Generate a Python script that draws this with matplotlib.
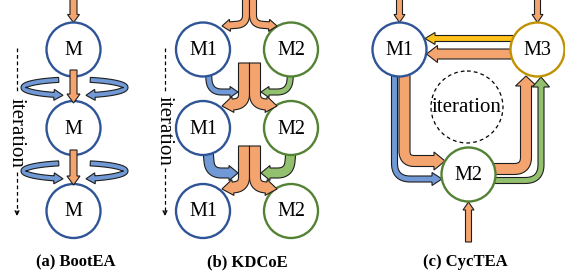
import numpy as np
import matplotlib
matplotlib.use("Agg")
import matplotlib.pyplot as plt
from matplotlib.patches import Circle, Polygon

# ---- content ----
captions = ["(a) BootEA", "(b) KDCoE", "(c) CycTEA"]
labels_a = ["M", "M", "M"]
labels_b = ["M1", "M2"]
labels_c = ["M1", "M2", "M3"]
iter_text = "iteration"

# ---- colours ----
ORANGE = "#f4a46e"
BLUE_F = "#7099d6"
GREEN_F = "#93c06e"
YELLOW = "#ffc21a"
EDGE = "#1e1e1e"
C_BLUE = "#2f5597"
C_GREEN = "#548235"
C_GOLD = "#c09200"

plt.rcParams['font.family'] = ['Liberation Serif', 'DejaVu Serif']

fig = plt.figure(figsize=(5.65, 2.76), dpi=100)
ax = fig.add_axes([0, 0, 1, 1])
ax.set_xlim(0, 565)
ax.set_ylim(276, 0)
ax.axis('off')


def centerline(way, radius, n=20):
    way = [np.array(p, float) for p in way]
    pts = [way[0]]
    for i in range(1, len(way) - 1):
        p0, p1, p2 = way[i - 1], way[i], way[i + 1]
        l1 = np.linalg.norm(p1 - p0)
        l2 = np.linalg.norm(p2 - p1)
        d1 = (p1 - p0) / l1
        d2 = (p2 - p1) / l2
        r = min(radius, l1 / 2, l2 / 2)
        a = p1 - d1 * r
        b = p1 + d2 * r
        for t in np.linspace(0, 1, n):
            pts.append((1 - t) ** 2 * a + 2 * (1 - t) * t * p1 + t ** 2 * b)
    pts.append(way[-1])
    return np.array(pts)


def arrow_poly(pts, w, hw, hl):
    pts = np.asarray(pts, float)
    keep = [0]
    for i in range(1, len(pts)):
        if np.linalg.norm(pts[i] - pts[keep[-1]]) > 1e-6:
            keep.append(i)
    pts = pts[keep]
    seg = np.linalg.norm(np.diff(pts, axis=0), axis=1)
    s = np.concatenate([[0], np.cumsum(seg)])
    sb = s[-1] - hl
    j = np.searchsorted(s, sb) - 1
    f = (sb - s[j]) / seg[j]
    base = pts[j] + f * (pts[j + 1] - pts[j])
    shaft = np.vstack([pts[:j + 1], base])
    keep = [0]
    for i in range(1, len(shaft)):
        if np.linalg.norm(shaft[i] - shaft[keep[-1]]) > 1e-6:
            keep.append(i)
    shaft = shaft[keep]
    tang = np.gradient(shaft, axis=0)
    tang /= np.linalg.norm(tang, axis=1)[:, None]
    nrm = np.column_stack([-tang[:, 1], tang[:, 0]])
    tip = pts[-1]
    d = (tip - base) / np.linalg.norm(tip - base)
    nb = np.array([-d[1], d[0]])
    nrm[-1] = nb
    left = shaft + nrm * w / 2
    right = shaft - nrm * w / 2
    return np.vstack([left, base + nb * hw / 2, tip, base - nb * hw / 2, right[::-1]])


def arrow(way, w, hw, hl, color, radius=10, z=1, lw=0.8):
    pts = centerline(way, radius) if len(way) > 2 else np.array(way, float)
    poly = arrow_poly(pts, w, hw, hl)
    ax.add_patch(Polygon(poly, closed=True, fc=color, ec=EDGE, lw=lw, joinstyle='miter', zorder=z))


def ring(cx, cy, a, b, t0, t1, w, hw, hl, color, z=0.5):
    t = np.radians(np.linspace(t0, t1, 80))
    pts = np.column_stack([cx + a * np.cos(t), cy - b * np.sin(t)])
    poly = arrow_poly(pts, w, hw, hl)
    ax.add_patch(Polygon(poly, closed=True, fc=color, ec=EDGE, lw=0.8, zorder=z))


def node(x, y, text, color, r=27):
    ax.add_patch(Circle((x, y), r, fc='white', ec=color, lw=1.7, zorder=2))
    ax.text(x, y + 1, text, ha='center', va='center', fontsize=14.5, zorder=3)


def iter_arrow(x, y0, y1, gap0, gap1):
    ax.plot([x, x], [y0, gap0], ls=(0, (3, 2.2)), lw=0.9, color='black')
    ax.plot([x, x], [gap1, y1 - 3], ls=(0, (3, 2.2)), lw=0.9, color='black')
    ax.annotate('', xy=(x, y1), xytext=(x, y1 - 5),
                arrowprops=dict(arrowstyle='->', lw=0.9, color='black', mutation_scale=7,
                                shrinkA=0, shrinkB=0))
    ax.text(x - 1, (gap0 + gap1) / 2, iter_text, rotation=270, ha='center', va='center', fontsize=15)


rows = [49.5, 128, 211]

# ---- (a) BootEA ----
xa = 73.5
for y, lab in zip(rows, labels_a):
    node(xa, y, lab, C_BLUE)
arrow([(xa, -2), (xa, 22.5)], 7, 12, 8, ORANGE)
for yr, y_from, y_to in [(87.5, 70, 103), (171, 150, 185)]:
    ring(xa + 1, yr, 51, 8, 108, 257, 5, 11, 9, BLUE_F)
    ring(xa + 1, yr, 51, 8, 72, -77, 5, 11, 9, BLUE_F)
    arrow([(xa, y_from), (xa, y_to)], 7, 13, 9, ORANGE, z=2.5)
iter_arrow(17, 48, 216, 93, 172)

# ---- (b) KDCoE ----
x1, x2, xm = 203, 291, 249.5
for y in rows:
    node(x1, y, labels_b[0], C_BLUE)
    node(x2, y, labels_b[1], C_GREEN)
# split arrows
for (y0, yc, ytip, w, hw, hl) in [(-2, 24, 26, 7, 12, 8), (63, 103, 106, 11, 16, 11), (146, 186, 189, 11, 16, 11)]:
    arrow([(xm - w / 2, y0), (xm - w / 2, yc), (222, ytip)], w, hw, hl, ORANGE, radius=9, z=3)
    arrow([(xm + w / 2, y0), (xm + w / 2, yc), (2 * xm - 222, ytip)], w, hw, hl, ORANGE, radius=9, z=3)
# side curved arrows
for (y0, yc, w, hw, hl, r) in [(68, 92, 6, 11, 8, 12), (150, 173, 10, 15, 9, 14)]:
    arrow([(208, y0), (210, yc), (238, yc)], w, hw, hl, BLUE_F, radius=r)
    arrow([(2 * xm - 208, y0), (2 * xm - 210, yc), (2 * xm - 238, yc)], w, hw, hl, GREEN_F, radius=r)
iter_arrow(165, 48, 216, 93, 168)

# ---- (c) CycTEA ----
m1 = (399.5, 49.5)
m2 = (468.5, 174.5)
m3 = (537.5, 49.5)
node(*m1, labels_c[0], C_BLUE)
node(*m2, labels_c[1], C_GREEN)
node(*m3, labels_c[2], C_GOLD)
ax.add_patch(Circle((467, 107), 36, fill=False, ec='black', lw=0.9, ls=(0, (3, 2.5)), zorder=1))
ax.text(467, 108, iter_text, ha='center', va='center', fontsize=15)
# inputs
arrow([(m1[0], -2), (m1[0], 22.5)], 6, 11, 8, ORANGE)
arrow([(m3[0], -2), (m3[0], 22.5)], 6, 11, 8, ORANGE)
arrow([(m2[0], 242), (m2[0], 202)], 6, 11, 8, ORANGE)
# M3 -> M1
arrow([(520, 38.5), (425, 38.5)], 6, 12, 10, YELLOW)
arrow([(520, 54), (426.5, 54)], 10, 17, 11, ORANGE)
# M1 -> M2
arrow([(394.5, 60), (394.5, 179), (442, 179)], 6, 13, 10, BLUE_F, radius=16)
arrow([(404.5, 60), (404.5, 161), (445, 161)], 11, 18, 11, ORANGE, radius=10)
# M2 -> M3
arrow([(480, 169), (526, 169), (526, 76)], 11, 21, 10, ORANGE, radius=12)
arrow([(480, 180.5), (541, 180.5), (541, 77)], 6, 17, 10, GREEN_F, radius=16)

# ---- captions ----
for x, cap in zip([76, 247, 465], captions):
    ax.text(x, 262, cap, ha='center', va='center', fontsize=12, fontweight='bold')

fig.savefig('out.png', dpi=100)
